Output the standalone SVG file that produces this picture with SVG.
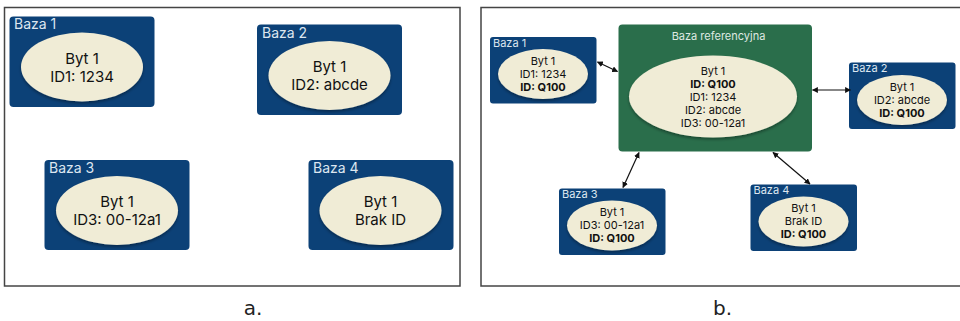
<svg xmlns="http://www.w3.org/2000/svg" width="960" height="321" viewBox="0 0 960 321">
<defs>
<style>
.frame{fill:#fff;stroke:#444;stroke-width:1.5}
.db{fill:#0c4177}
.ref{fill:#2a6e4b}
.ell{fill:#f0ecd6;filter:url(#sh)}
.lbl{font-family:Inter,"Liberation Sans",sans-serif;fill:#dde6f0}
.txt{font-family:Inter,"Liberation Sans",sans-serif;fill:#111;text-anchor:middle}
.b{font-weight:bold}
.cap{font-family:"DejaVu Sans","Liberation Sans",sans-serif;font-size:20px;fill:#222;text-anchor:middle}
.conn{stroke:#111;stroke-width:1.2;fill:none;marker-start:url(#ah);marker-end:url(#ah)}
</style>
<filter id="sh" x="-20%" y="-20%" width="140%" height="150%">
<feDropShadow dx="0" dy="2" stdDeviation="1.5" flood-color="#000" flood-opacity="0.35"/>
</filter>
<marker id="ah" viewBox="0 0 10 10" refX="9" refY="5" markerWidth="6" markerHeight="6" orient="auto-start-reverse" markerUnits="userSpaceOnUse">
<path d="M0,0 L10,5 L0,10 z" fill="#111"/>
</marker>
</defs>

<!-- Panel a -->
<rect class="frame" x="4.5" y="7.5" width="455.5" height="278.5"/>
<g id="a-baza1">
<rect class="db" x="9.5" y="16.5" width="145" height="90.5" rx="4"/>
<text class="lbl" x="14" y="29" font-size="14">Baza 1</text>
<ellipse class="ell" cx="82" cy="67" rx="61" ry="34.5"/>
<text class="txt" x="82" y="64" font-size="15">Byt 1</text>
<text class="txt" x="82" y="82" font-size="15">ID1: 1234</text>
</g>
<g id="a-baza2">
<rect class="db" x="257" y="24.5" width="145" height="90.5" rx="4"/>
<text class="lbl" x="262" y="38" font-size="14">Baza 2</text>
<ellipse class="ell" cx="329.5" cy="75.5" rx="61" ry="34.5"/>
<text class="txt" x="329.5" y="72" font-size="15">Byt 1</text>
<text class="txt" x="329.5" y="90" font-size="15">ID2: abcde</text>
</g>
<g id="a-baza3">
<rect class="db" x="44.5" y="160" width="145" height="90" rx="4"/>
<text class="lbl" x="49" y="173" font-size="14">Baza 3</text>
<ellipse class="ell" cx="117" cy="210.5" rx="61" ry="34.5"/>
<text class="txt" x="117" y="207" font-size="15">Byt 1</text>
<text class="txt" x="117" y="225" font-size="15">ID3: 00-12a1</text>
</g>
<g id="a-baza4">
<rect class="db" x="308.5" y="160" width="145" height="90" rx="4"/>
<text class="lbl" x="313" y="173" font-size="14">Baza 4</text>
<ellipse class="ell" cx="380.5" cy="210.5" rx="61" ry="34.5"/>
<text class="txt" x="380.5" y="207" font-size="15">Byt 1</text>
<text class="txt" x="380.5" y="225" font-size="15">Brak ID</text>
</g>
<text class="cap" x="253" y="315">a.</text>

<!-- Panel b -->
<rect class="frame" x="481" y="7.5" width="480" height="278.5"/>
<g id="b-ref">
<rect class="ref" x="618.5" y="24.5" width="193.5" height="127" rx="4"/>
<text class="lbl" x="718.5" y="40" font-size="11" text-anchor="middle" style="fill:#dfe9e2">Baza referencyjna</text>
<ellipse class="ell" cx="713" cy="96.5" rx="84" ry="41"/>
<text class="txt" x="713" y="75" font-size="11">Byt 1</text>
<text class="txt b" x="713" y="88" font-size="11">ID: Q100</text>
<text class="txt" x="713" y="101" font-size="11">ID1: 1234</text>
<text class="txt" x="713" y="114" font-size="11">ID2: abcde</text>
<text class="txt" x="713" y="127" font-size="11">ID3: 00-12a1</text>
</g>
<g id="b-baza1">
<rect class="db" x="490" y="37" width="106.5" height="66.5" rx="3"/>
<text class="lbl" x="493" y="46.5" font-size="11">Baza 1</text>
<ellipse class="ell" cx="543" cy="74" rx="45" ry="25"/>
<text class="txt" x="543" y="64.5" font-size="11">Byt 1</text>
<text class="txt" x="543" y="77.5" font-size="11">ID1: 1234</text>
<text class="txt b" x="543" y="90.5" font-size="11">ID: Q100</text>
</g>
<g id="b-baza2">
<rect class="db" x="849" y="62.5" width="106.5" height="66.5" rx="3"/>
<text class="lbl" x="852" y="72" font-size="11">Baza 2</text>
<ellipse class="ell" cx="902" cy="100" rx="45" ry="25"/>
<text class="txt" x="902" y="90.5" font-size="11">Byt 1</text>
<text class="txt" x="902" y="103.5" font-size="11">ID2: abcde</text>
<text class="txt b" x="902" y="116.5" font-size="11">ID: Q100</text>
</g>
<g id="b-baza3">
<rect class="db" x="559" y="188.5" width="106.5" height="66.5" rx="3"/>
<text class="lbl" x="562" y="198" font-size="11">Baza 3</text>
<ellipse class="ell" cx="612" cy="225.5" rx="45" ry="25"/>
<text class="txt" x="612" y="216" font-size="11">Byt 1</text>
<text class="txt" x="612" y="229" font-size="11">ID3: 00-12a1</text>
<text class="txt b" x="612" y="242" font-size="11">ID: Q100</text>
</g>
<g id="b-baza4">
<rect class="db" x="750.5" y="184.5" width="106.5" height="66.5" rx="3"/>
<text class="lbl" x="753.5" y="194" font-size="11">Baza 4</text>
<ellipse class="ell" cx="803.5" cy="221.5" rx="45" ry="25"/>
<text class="txt" x="803.5" y="212" font-size="11">Byt 1</text>
<text class="txt" x="803.5" y="225" font-size="11">Brak ID</text>
<text class="txt b" x="803.5" y="238" font-size="11">ID: Q100</text>
</g>
<g id="connectors">
<line class="conn" x1="597.5" y1="62" x2="617.5" y2="71.5"/>
<line class="conn" x1="812.5" y1="90" x2="850.5" y2="90"/>
<line class="conn" x1="639" y1="152.5" x2="623" y2="187.5"/>
<line class="conn" x1="773" y1="152.5" x2="810" y2="184"/>
</g>
<text class="cap" x="722.5" y="315">b.</text>
</svg>
